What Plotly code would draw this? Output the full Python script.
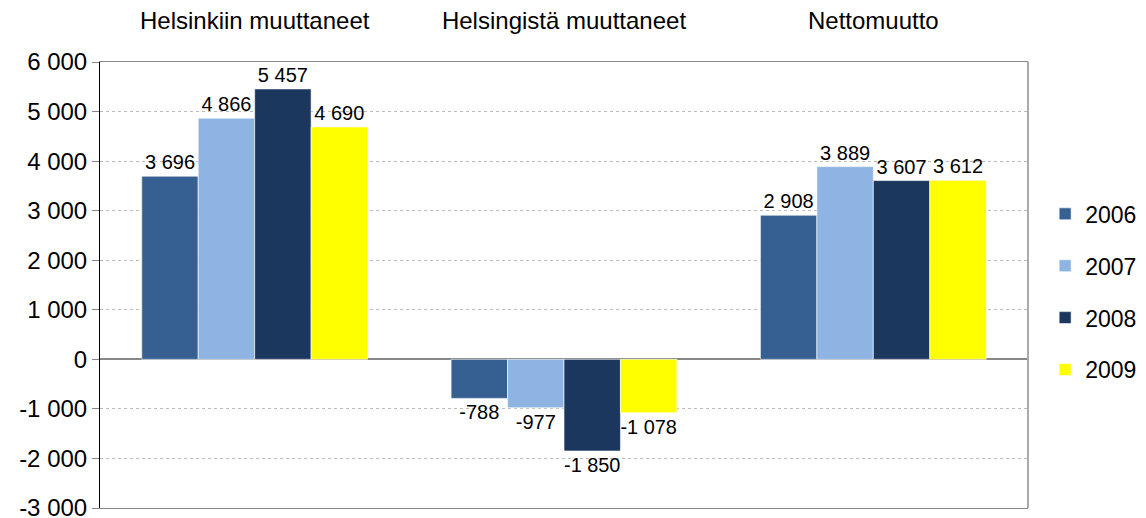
import plotly.graph_objects as go

categories = ["Helsinkiin muuttaneet", "Helsingistä muuttaneet", "Nettomuutto"]
years = ["2006", "2007", "2008", "2009"]
values = {
    "2006": [3696, -788, 2908],
    "2007": [4866, -977, 3889],
    "2008": [5457, -1850, 3607],
    "2009": [4690, -1078, 3612],
}
colors = {"2006": "#366092", "2007": "#8EB4E3", "2008": "#1B375E", "2009": "#FFFF00"}
tick_vals = [-3000, -2000, -1000, 0, 1000, 2000, 3000, 4000, 5000, 6000]
tick_text = ["-3 000", "-2 000", "-1 000", "0", "1 000", "2 000", "3 000", "4 000", "5 000", "6 000"]


def fmt(v):
    s = f"{abs(v):,}".replace(",", " ")
    return ("-" if v < 0 else "") + s


fig = go.Figure()
for y in years:
    fig.add_trace(go.Bar(
        x=categories, y=values[y], name=y, legendgroup=y,
        marker=dict(color=colors[y], line=dict(color="rgba(255,255,255,0.6)", width=1)),
        text=[fmt(v) for v in values[y]], textposition="outside",
        textfont=dict(size=20, color="black", family="Liberation Sans, Arial"),
        cliponaxis=False,
    ))

fig.update_layout(
    width=1146, height=518,
    margin=dict(l=92, r=126, t=54, b=18),
    plot_bgcolor="white", paper_bgcolor="white",
    barmode="group", bargap=0.27, bargroupgap=0,
    font=dict(family="Liberation Sans, Arial", size=24, color="black"),
    showlegend=True,
    legend=dict(xref="container", yref="container", x=0.905, y=0.452,
                xanchor="left", yanchor="middle",
                font=dict(size=23), tracegroupgap=19, itemwidth=30),
    xaxis=dict(side="top", showline=True, mirror=True, linecolor="#888888", linewidth=1,
               ticks="", tickfont=dict(size=24), ticklabelstandoff=22, automargin=False),
    yaxis=dict(range=[-3000, 6000], tickvals=tick_vals, ticktext=tick_text,
               showgrid=True, gridcolor="#BBBBBB", griddash="dot", gridwidth=1,
               zeroline=True, zerolinecolor="#888888", zerolinewidth=2,
               showline=True, linecolor="black", linewidth=1,
               ticks="outside", ticklen=7, tickcolor="#888888",
               tickfont=dict(size=24), automargin=False, ticklabeloverflow="allow"),
    shapes=[dict(type="line", xref="paper", yref="paper", x0=1, x1=1, y0=0, y1=1,
                 line=dict(color="#AAAAAA", width=2))],
)

fig.write_html("out.html")
